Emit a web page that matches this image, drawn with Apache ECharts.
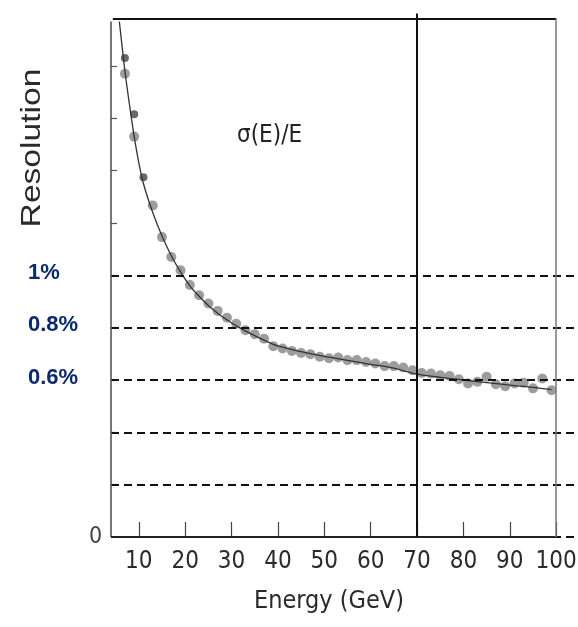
<!DOCTYPE html>
<html>
<head>
<meta charset="utf-8">
<script src="https://cdn.jsdelivr.net/npm/echarts@6/dist/echarts.min.js"></script>
<style>
  html, body { margin: 0; padding: 0; background: #fff; }
  #chart { width: 578px; height: 627px; }
</style>
</head>
<body>
<div id="chart"></div>
<script>
// measured points (GeV, %)
const darkEnergy = [7, 9, 11];
const darkRes = [1.83, 1.615, 1.375];

const grayEnergy = [7, 9, 13, 15, 17, 19, 21, 23, 25, 27, 29, 31, 33, 35, 37, 39, 41, 43, 45, 47,
    49, 51, 53, 55, 57, 59, 61, 63, 65, 67, 69, 71, 73, 75, 77, 79, 81, 83, 85, 87, 89, 91, 93, 95, 97, 99];
const grayRes = [1.77, 1.53, 1.267, 1.146, 1.07, 1.019, 0.963, 0.924, 0.892, 0.864, 0.838, 0.815, 0.79, 0.775,
    0.758, 0.729, 0.72, 0.711, 0.703, 0.698, 0.689, 0.683, 0.686, 0.676, 0.676, 0.669, 0.663, 0.653, 0.653,
    0.648, 0.637, 0.627, 0.625, 0.618, 0.615, 0.603, 0.587, 0.593, 0.612, 0.584, 0.576, 0.587, 0.589, 0.568,
    0.606, 0.561];

// fit curve
const fitEnergy = [5.8, 7, 8, 9, 10, 11, 13, 15, 17, 19, 21, 23, 25, 27, 29, 31, 34, 37, 40, 45, 50,
    55, 60, 65, 70, 75, 80, 85, 90, 95, 99];
const fitRes = [1.97, 1.78, 1.65, 1.53, 1.43, 1.35, 1.24, 1.15, 1.075, 1.013, 0.96, 0.92, 0.885, 0.855,
    0.83, 0.807, 0.778, 0.752, 0.73, 0.708, 0.69, 0.675, 0.66, 0.645, 0.622, 0.61, 0.6, 0.59, 0.58, 0.572, 0.563];

const xTicks = [10, 20, 30, 40, 50, 60, 70, 80, 90, 100];
const yTicks = [0.2, 0.4, 0.6, 0.8, 1.0, 1.2, 1.4, 1.6, 1.8];
const yLabelValues = [0, 0.6, 0.8, 1.0];
const dashedLevels = [0, 0.2, 0.4, 0.6, 0.8, 1.0];

const pairs = (xs, ys) => xs.map((x, i) => [x, ys[i]]);

const narrow = '"Liberation Sans Narrow", "DejaVu Sans Condensed", sans-serif';

const chart = echarts.init(document.getElementById('chart'));

const dashLines = dashedLevels.map(v => ({
    yAxis: v,
    lineStyle: { color: '#111', width: 2, type: [8, 5] }
}));

const frameLines = [
    // left axis
    [{ coord: [4, 0], lineStyle: { color: '#555', width: 1.6, type: 'solid' } }, { coord: [4, 1.97] }],
    // bottom axis line
    [{ coord: [4, 0], lineStyle: { color: '#222', width: 2, type: 'solid' } }, { coord: [100, 0] }],
    // top frame
    [{ coord: [4.4, 1.98], lineStyle: { color: '#111', width: 2, type: 'solid' } }, { coord: [100, 1.98] }],
    // right frame
    [{ coord: [100, 0], lineStyle: { color: '#777', width: 1.5, type: 'solid' } }, { coord: [100, 1.98] }],
    // 70 GeV marker
    [{ coord: [70, 0], lineStyle: { color: '#111', width: 2, type: 'solid' } }, { coord: [70, 2.0] }]
];

const option = {
    animation: false,
    backgroundColor: '#fff',
    title: {
        text: 'σ(E)/E',
        left: 232,
        top: 119,
        textStyle: { fontFamily: narrow, fontSize: 24, fontWeight: 'normal', color: '#222' }
    },
    graphic: [
        {
            type: 'text',
            x: 32,
            y: 148,
            rotation: Math.PI / 2,
            scaleX: 1.2,
            style: {
                text: 'Resolution',
                fontFamily: '"Liberation Sans", Arial, sans-serif',
                fontSize: 28,
                fill: '#2a2a2a',
                textAlign: 'center',
                textVerticalAlign: 'middle'
            }
        }
    ],
    grid: {
        left: 111,
        right: 0,
        top: 11,
        bottom: 90,
        outerBoundsMode: 'none'
    },
    xAxis: {
        type: 'value',
        min: 4,
        max: 104.7,
        name: 'Energy (GeV)',
        nameLocation: 'middle',
        nameGap: 52,
        nameTextStyle: {
            fontFamily: narrow,
            fontSize: 25,
            color: '#2a2a2a',
            padding: [0, 31, 0, 0]
        },
        axisLine: { show: false },
        axisTick: {
            customValues: xTicks,
            inside: true,
            length: 15,
            lineStyle: { color: '#444', width: 1.2 }
        },
        axisLabel: {
            customValues: xTicks,
            margin: 13,
            fontFamily: narrow,
            fontSize: 24,
            color: '#2a2a2a'
        },
        splitLine: { show: false }
    },
    yAxis: {
        type: 'value',
        min: 0,
        max: 2.01,
        axisLine: { show: false },
        axisTick: {
            customValues: yTicks,
            inside: true,
            length: 6,
            lineStyle: { color: '#555', width: 1.2 }
        },
        axisLabel: {
            customValues: yLabelValues,
            align: 'left',
            margin: 83,
            formatter: v => v === 0 ? '{z|0}' : '{p|' + (+v.toFixed(1)) + '%}',
            rich: {
                z: { fontFamily: narrow, fontSize: 23, color: '#444', padding: [0, 0, 0, 61] },
                p: {
                    fontFamily: '"Liberation Sans", Arial, sans-serif',
                    fontSize: 22,
                    fontWeight: 'bold',
                    color: '#0b2a6b',
                    padding: [0, 0, 5, 0]
                }
            }
        },
        splitLine: { show: false }
    },
    series: [
        {
            name: 'fit',
            type: 'line',
            data: pairs(fitEnergy, fitRes),
            smooth: 0.3,
            showSymbol: false,
            clip: false,
            z: 4,
            lineStyle: { color: '#333', width: 1.3 },
            markLine: {
                silent: true,
                symbol: ['none', 'none'],
                label: { show: false },
                animation: false,
                data: dashLines.concat(frameLines)
            }
        },
        {
            name: 'measured',
            type: 'scatter',
            data: pairs(grayEnergy, grayRes),
            symbol: 'circle',
            symbolSize: 10,
            z: 3,
            itemStyle: { color: '#858585' }
        },
        {
            name: 'measured low',
            type: 'scatter',
            data: pairs(darkEnergy, darkRes),
            symbol: 'circle',
            symbolSize: 8,
            z: 3,
            itemStyle: { color: '#444' }
        }
    ]
};

chart.setOption(option);
</script>
</body>
</html>
